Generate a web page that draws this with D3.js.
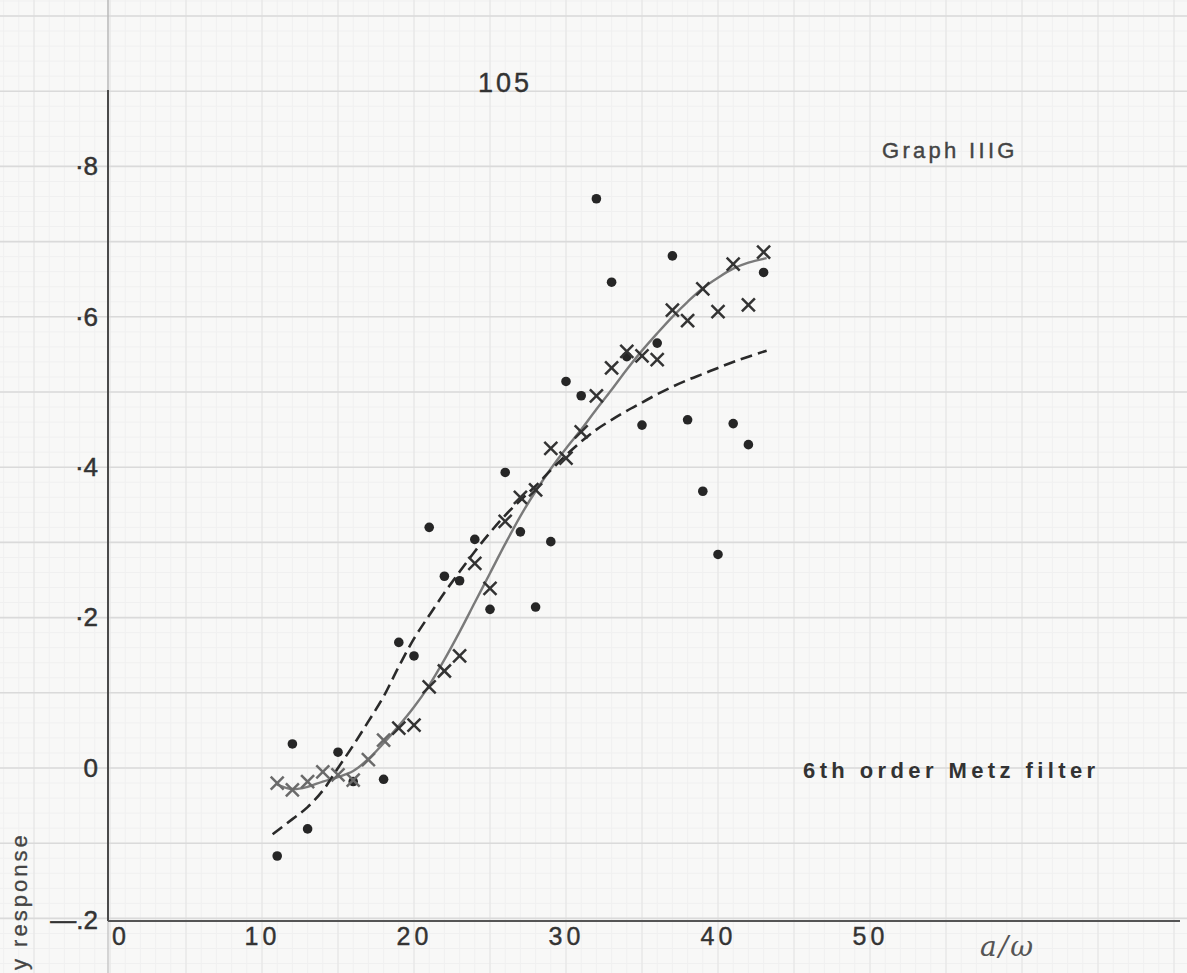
<!DOCTYPE html>
<html>
<head>
<meta charset="utf-8">
<script src="https://cdnjs.cloudflare.com/ajax/libs/d3/7.8.5/d3.min.js"></script>
<style>
  html, body { margin: 0; padding: 0; background: #f8f8f7; }
  svg { display: block; }
  text { font-family: "Liberation Sans", Arial, sans-serif; fill: #3c3c3c; }
</style>
</head>
<body>
<svg id="chart" width="1187" height="973"></svg>
<script>
// ---- data ----
const dotX = [11, 12, 13, 15, 16, 18, 19, 20, 21, 22, 23, 24, 25, 26, 27, 28, 29, 30, 31, 32, 33, 34, 35, 36, 37, 38, 39, 40, 41, 42, 43];
const dotY = [-0.117, 0.032, -0.081, 0.021, -0.018, -0.015, 0.167, 0.149, 0.320, 0.255, 0.249, 0.304, 0.211, 0.393, 0.314, 0.214, 0.301, 0.514, 0.495, 0.757, 0.646, 0.547, 0.456, 0.565, 0.681, 0.463, 0.368, 0.284, 0.458, 0.430, 0.659];

const crossX = [11, 12, 13, 14, 15, 16, 17, 18, 19, 20, 21, 22, 23, 24, 25, 26, 27, 28, 29, 30, 31, 32, 33, 34, 35, 36, 37, 38, 39, 40, 41, 42, 43];
const crossY = [-0.020, -0.029, -0.018, -0.005, -0.009, -0.016, 0.011, 0.037, 0.053, 0.057, 0.108, 0.129, 0.149, 0.272, 0.239, 0.328, 0.360, 0.370, 0.425, 0.412, 0.447, 0.495, 0.532, 0.554, 0.548, 0.543, 0.609, 0.595, 0.637, 0.607, 0.670, 0.616, 0.686];

const solidX = [11, 12, 13, 14, 15, 16, 17, 18, 19, 20, 21, 22, 23, 24, 25, 26, 27, 28, 29, 30, 31, 32, 33, 34, 35, 36, 37, 38, 39, 40, 41, 42, 43.2];
const solidY = [-0.022, -0.028, -0.025, -0.018, -0.012, -0.004, 0.012, 0.033, 0.056, 0.081, 0.110, 0.144, 0.181, 0.220, 0.259, 0.298, 0.335, 0.368, 0.398, 0.425, 0.450, 0.477, 0.503, 0.530, 0.555, 0.578, 0.600, 0.620, 0.638, 0.652, 0.664, 0.672, 0.678];

const dashX = [10.7, 12, 13, 14, 15, 16, 17, 18, 19, 20, 21, 22, 23, 24, 25, 26, 27, 28, 29, 30, 31, 32, 33, 34, 35, 36, 37, 38, 39, 40, 41, 42, 43.2];
const dashY = [-0.088, -0.068, -0.052, -0.030, 0.000, 0.030, 0.062, 0.095, 0.135, 0.172, 0.203, 0.233, 0.261, 0.288, 0.313, 0.336, 0.356, 0.375, 0.396, 0.416, 0.434, 0.450, 0.463, 0.475, 0.486, 0.497, 0.507, 0.516, 0.524, 0.532, 0.540, 0.547, 0.555];

const xTicks = [0, 10, 20, 30, 40, 50];
const xTickLabels = ["0", "10", "20", "30", "40", "50"];
const yTicks = [-0.2, 0, 0.2, 0.4, 0.6, 0.8];
const yTickLabels = ["\u2014.2", "0", "\u00b72", "\u00b74", "\u00b76", "\u00b78"];

const pageLabel = "105";
const graphTitle = "Graph IIIG";
const filterLabel = "6th order Metz filter";
const xAxisLabel = "a/\u03c9";
const yAxisLabel = "y response";

// ---- layout ----
const svg = d3.select("#chart");
const W = 1187, H = 973;
const axisX = 108, axisY = 921;

const x = d3.scaleLinear().domain([0, 70]).range([110, 110 + 70 * 15.2]);
const y = d3.scaleLinear().domain([-0.2, 1.0]).range([918.4, 16]);

// graph paper background
const grid = svg.append("g");
const minorX = d3.range(-7, 72, 1);
const minorY = d3.range(-0.30, 1.05, 0.02);
grid.selectAll(".mx").data(minorX).join("line")
  .attr("x1", d => x(d)).attr("x2", d => x(d)).attr("y1", 0).attr("y2", H)
  .attr("stroke", "#f0f0f0").attr("stroke-width", 1);
grid.selectAll(".my").data(minorY).join("line")
  .attr("y1", d => y(d)).attr("y2", d => y(d)).attr("x1", 0).attr("x2", W)
  .attr("stroke", "#f0f0f0").attr("stroke-width", 1);
grid.selectAll(".Mx").data(d3.range(-5, 75, 5)).join("line")
  .attr("x1", d => x(d)).attr("x2", d => x(d)).attr("y1", 0).attr("y2", H)
  .attr("stroke", "#e6e6e6").attr("stroke-width", 1.2);
grid.selectAll(".My").data(d3.range(-0.3, 1.05, 0.1)).join("line")
  .attr("y1", d => y(d)).attr("y2", d => y(d)).attr("x1", 0).attr("x2", W)
  .attr("stroke", "#dadada").attr("stroke-width", 1.6);

// axes lines
svg.append("line").attr("x1", axisX).attr("x2", axisX).attr("y1", 0).attr("y2", 90)
  .attr("stroke", "#b8b8b8").attr("stroke-width", 1.5);
svg.append("line").attr("x1", axisX).attr("x2", axisX).attr("y1", 90).attr("y2", axisY)
  .attr("stroke", "#4a4a4a").attr("stroke-width", 2);
svg.append("line").attr("x1", axisX).attr("x2", axisX).attr("y1", axisY).attr("y2", H)
  .attr("stroke", "#c8c8c8").attr("stroke-width", 1.5);
svg.append("line").attr("x1", axisX).attr("x2", 1180).attr("y1", axisY).attr("y2", axisY)
  .attr("stroke", "#555").attr("stroke-width", 2);

// y tick labels via axis
const yAxis = d3.axisLeft(y).tickValues(yTicks).tickSize(0).tickPadding(10)
  .tickFormat((d, i) => yTickLabels[i]);
const gy = svg.append("g").attr("transform", `translate(${axisX},0)`).call(yAxis);
gy.select(".domain").remove();
gy.selectAll("text").style("font-size", "26px").style("fill", "#333")
  .style("stroke", "#333").style("stroke-width", "0.5px")
  .style("font-family", "'Liberation Sans', Arial, sans-serif");
gy.selectAll(".tick").filter(d => d === -0.2).attr("transform", `translate(0,${y(-0.2) + 2})`);

// x tick labels via axis
const xAxis = d3.axisBottom(x).tickValues(xTicks).tickSize(0).tickPadding(6)
  .tickFormat((d, i) => xTickLabels[i]);
const gx = svg.append("g").attr("transform", `translate(0,${axisY})`).call(xAxis);
gx.select(".domain").remove();
gx.selectAll("text").style("font-size", "25px").style("fill", "#333")
  .style("stroke", "#333").style("stroke-width", "0.4px")
  .style("letter-spacing", "4px")
  .style("font-family", "'Liberation Sans', Arial, sans-serif");
gx.selectAll(".tick").filter(d => d === 0).attr("transform", `translate(${x(0) + 11},0)`);

// curves
const line = d3.line().x(d => x(d[0])).y(d => y(d[1])).curve(d3.curveCatmullRom.alpha(0.5));
svg.append("path").datum(solidX.map((v, i) => [v, solidY[i]]))
  .attr("d", line).attr("fill", "none").attr("stroke", "#7a7a7a").attr("stroke-width", 2.4);
svg.append("path").datum(dashX.map((v, i) => [v, dashY[i]]))
  .attr("d", line).attr("fill", "none").attr("stroke", "#2a2a2a").attr("stroke-width", 2.6)
  .attr("stroke-dasharray", "12,6");

// dots
svg.append("g").selectAll("circle").data(dotX.map((v, i) => [v, dotY[i]])).join("circle")
  .attr("cx", d => x(d[0])).attr("cy", d => y(d[1])).attr("r", 4.8)
  .attr("fill", "#262626");

// crosses
const cs = 6.5;
const crosses = svg.append("g").selectAll("g").data(crossX.map((v, i) => [v, crossY[i]])).join("g")
  .attr("transform", d => `translate(${x(d[0])},${y(d[1])})`);
crosses.append("line").attr("x1", -cs).attr("y1", -cs).attr("x2", cs).attr("y2", cs)
  .attr("stroke", d => d[0] < 19 ? "#6a6a6a" : "#333").attr("stroke-width", 2.5);
crosses.append("line").attr("x1", -cs).attr("y1", cs).attr("x2", cs).attr("y2", -cs)
  .attr("stroke", d => d[0] < 19 ? "#6a6a6a" : "#333").attr("stroke-width", 2.5);

// texts
svg.append("text").attr("x", 505).attr("y", 92).attr("text-anchor", "middle")
  .style("font-size", "27px").style("letter-spacing", "3px").style("fill", "#333")
  .style("stroke", "#333").style("stroke-width", "0.4px").text(pageLabel);
svg.append("text").attr("x", 882).attr("y", 158)
  .style("font-size", "22px").style("letter-spacing", "3.3px").style("fill", "#444")
  .style("stroke", "#444").style("stroke-width", "0.4px").text(graphTitle);
svg.append("text").attr("x", 803).attr("y", 778)
  .style("font-size", "22px").style("font-weight", "bold").style("letter-spacing", "4.4px")
  .style("fill", "#333").text(filterLabel);
svg.append("text").attr("x", 980).attr("y", 956)
  .style("font-size", "28px").style("font-style", "italic").style("letter-spacing", "2px")
  .style("font-family", "'DejaVu Serif', serif").style("fill", "#555").text(xAxisLabel);
svg.append("text").attr("transform", "translate(27,970) rotate(-90)")
  .attr("text-anchor", "start")
  .style("font-size", "22px").style("letter-spacing", "3px").style("fill", "#444")
  .style("stroke", "#444").style("stroke-width", "0.3px")
  .text(yAxisLabel);
</script>
</body>
</html>
